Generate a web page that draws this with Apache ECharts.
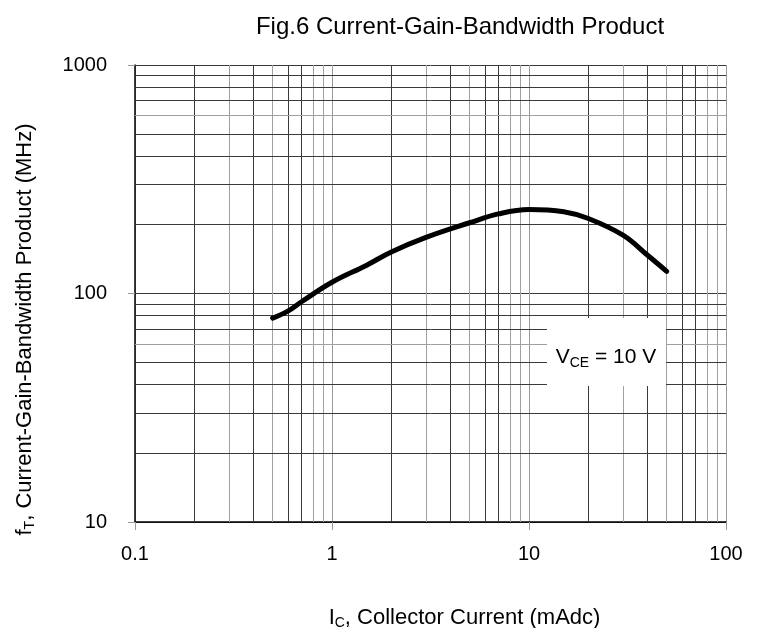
<!DOCTYPE html>
<html>
<head>
<meta charset="utf-8">
<script src="https://cdn.jsdelivr.net/npm/echarts@6/dist/echarts.min.js"></script>
<style>
  html, body { margin: 0; padding: 0; background: #fff; }
  #chart { width: 757px; height: 628px; }
</style>
</head>
<body>
<div id="chart"></div>
<script>
// 集电极电流 (mAdc) 与 fT (MHz)
let icValues = [0.5, 0.6, 0.7, 1, 1.5, 2, 3, 5, 7, 10, 15, 20, 30, 40, 50]
let ftValues = [78, 84, 92, 112, 133, 152, 176, 204, 223, 233, 228, 213, 180, 147, 125]
// 刻度
let xTicks = [0.1, 1, 10, 100]
let yTicks = [10, 100, 1000]
// 次网格线
let xMinor = [0.2, 0.3, 0.4, 0.5, 0.6, 0.7, 0.8, 0.9, 2, 3, 4, 5, 6, 7, 8, 9, 20, 30, 40, 50, 60, 70, 80, 90]
let yMinor = [20, 30, 40, 50, 60, 70, 80, 90, 200, 300, 400, 500, 600, 700, 800, 900]

let font = 'Liberation Sans, Arial, sans-serif'
let myChart = echarts.init(document.getElementById('chart'))

// 网格线颜色深浅交替，跟原图差不多
function gridColor(v) {
    let m = Math.round(v / Math.pow(10, Math.floor(Math.log10(v) + 1e-9)))
    return [3, 5, 8, 9].indexOf(m) >= 0 ? '#a0a0a0' : '#3a3a3a'
}

let minorLines = []
xMinor.forEach(v => minorLines.push({ xAxis: v, lineStyle: { color: gridColor(v) } }))
yMinor.forEach(v => minorLines.push({ yAxis: v, lineStyle: { color: v === 60 || v === 600 ? '#a0a0a0' : '#3a3a3a' } }))

let option = {
    animation: false,
    backgroundColor: '#fff',
    title: {
        text: 'Fig.6 Current-Gain-Bandwidth Product',
        left: 455,
        top: 10,
        textAlign: 'center',
        textStyle: { fontFamily: font, fontSize: 24, fontWeight: 'normal', color: '#000' },
    },
    grid: { left: 135, right: 31, top: 65, bottom: 106, outerBoundsMode: 'none' },
    xAxis: {
        type: 'log',
        logBase: 10,
        min: 0.1,
        max: 100,
        name: '{n|I}{s|C}{n|, Collector Current (mAdc)}',
        nameLocation: 'middle',
        nameGap: 83,
        nameTextStyle: {
            padding: [0, 0, 0, 68],
            rich: {
                n: { fontFamily: font, fontSize: 22, color: '#000' },
                s: { fontFamily: font, fontSize: 14, color: '#000', padding: [11, 0, 0, 0] },
            },
        },
        axisLine: { lineStyle: { color: '#000', width: 1.5 } },
        axisTick: { length: 8, lineStyle: { color: '#999' } },
        axisLabel: {
            margin: 22,
            fontFamily: font,
            fontSize: 20,
            color: '#000',
            formatter: v => (xTicks.indexOf(v) >= 0 ? String(v) : ''),
        },
        splitLine: { show: true, lineStyle: { color: '#9a9a9a', width: 1 } },
    },
    yAxis: {
        type: 'log',
        logBase: 10,
        min: 10,
        max: 1000,
        name: '{n|f}{s|T}{n|, Current-Gain-Bandwidth Product (MHz)}',
        nameLocation: 'middle',
        nameGap: 98,
        nameRotate: 90,
        nameTextStyle: {
            padding: [0, 72, 0, 0],
            rich: {
                n: { fontFamily: font, fontSize: 22, color: '#000' },
                s: { fontFamily: font, fontSize: 14, color: '#000', padding: [11, 0, 0, 0] },
            },
        },
        axisLine: { lineStyle: { color: '#000', width: 1.5 } },
        axisTick: { length: 7, lineStyle: { color: '#999' } },
        axisLabel: {
            margin: 28,
            fontFamily: font,
            fontSize: 20,
            color: '#000',
            formatter: v => (yTicks.indexOf(v) >= 0 ? String(v) : ''),
        },
        splitLine: { show: true, lineStyle: { color: '#3a3a3a', width: 1 } },
    },
    series: [
        {
            type: 'line',
            data: icValues.map((v, i) => [v, ftValues[i]]),
            smooth: 0.4,
            symbol: 'none',
            lineStyle: { color: '#000', width: 5, cap: 'round' },
            z: 5,
            markLine: {
                silent: true,
                symbol: 'none',
                label: { show: false },
                lineStyle: { type: 'solid', width: 1 },
                data: minorLines,
                z: 1,
            },
        },
    ],
    graphic: [
        {
            type: 'rect',
            shape: { x: 547, y: 318, width: 119, height: 68 },
            style: { fill: '#fff' },
            z: 10,
        },
        {
            type: 'text',
            x: 606,
            y: 357,
            z: 11,
            style: {
                text: '{n|V}{s|CE}{n| = 10 V}',
                align: 'center',
                verticalAlign: 'middle',
                rich: {
                    n: { fontFamily: font, fontSize: 21, fill: '#000' },
                    s: { fontFamily: font, fontSize: 14, fill: '#000', padding: [12, 0, 0, 0] },
                },
            },
        },
    ],
}
myChart.setOption(option)
</script>
</body>
</html>
